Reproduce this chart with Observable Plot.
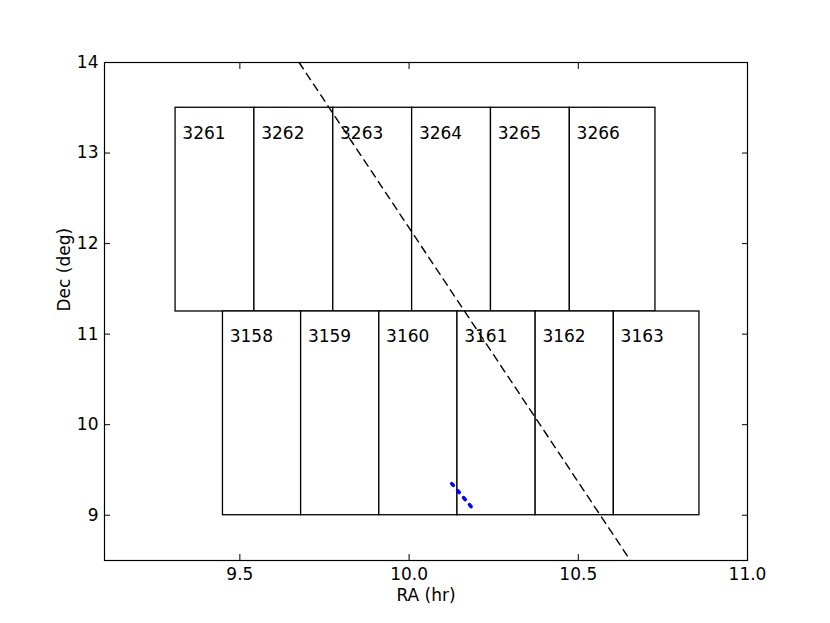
<!DOCTYPE html>
<html>
<head>
<meta charset="utf-8">
<script src="https://cdn.jsdelivr.net/npm/d3@7"></script>
<script src="https://cdn.jsdelivr.net/npm/@observablehq/plot@0.6"></script>
<style>
  html, body { margin: 0; padding: 0; background: white; }
  #chart { width: 830px; height: 623px; }
</style>
</head>
<body>
<div id="chart"></div>
<script>
// Field names and left RA edges (hr) of each field box
const topFields = ["3261", "3262", "3263", "3264", "3265", "3266"];
const topRA = [9.310, 9.543, 9.776, 10.009, 10.242, 10.475];
const topDec = [11.25, 13.5];

const bottomFields = ["3158", "3159", "3160", "3161", "3162", "3163"];
const bottomRA = [9.450, 9.681, 9.912, 10.143, 10.374, 10.605];
const bottomDec = [9.0, 11.25];

const fieldWidth = 0.253; // hr (boxes overlap; later boxes cover earlier ones)

// Dashed reference line (RA, Dec)
const pathRA = [9.675, 10.654];
const pathDec = [14.0, 8.5];

// Blue track (RA, Dec)
const trackRA = [10.126, 10.189];
const trackDec = [9.35, 9.07];

// Axis ticks
const xTicks = [9.5, 10.0, 10.5, 11.0];
const yTicks = [9, 10, 11, 12, 13, 14];

// visible extent of each box: up to the next box's left edge (later boxes sit on top)
function row(names, ras, decs) {
  return names.map((name, i) => ({
    name,
    ra: ras[i],
    raEnd: i < ras.length - 1 ? ras[i + 1] : ras[i] + fieldWidth,
    dec0: decs[0],
    dec1: decs[1]
  }));
}
const fields = [...row(topFields, topRA, topDec), ...row(bottomFields, bottomRA, bottomDec)];
const path = pathRA.map((ra, i) => ({ra, dec: pathDec[i]}));
const track = trackRA.map((ra, i) => ({ra, dec: trackDec[i]}));

const font = "DejaVu Sans, sans-serif";

const chart = Plot.plot({
  width: 830,
  height: 623,
  marginLeft: 104,
  marginRight: 83,
  marginTop: 62,
  marginBottom: 63,
  style: {fontFamily: font, fontSize: "17px", background: "white", color: "black", overflow: "visible"},
  x: {domain: [9.1, 11.0]},
  y: {domain: [8.5, 14]},
  marks: [
    Plot.rect(fields, {
      x1: "ra", x2: "raEnd", y1: "dec0", y2: "dec1",
      fill: "white", stroke: "black", strokeWidth: 1.3
    }),
    Plot.line(path, {x: "ra", y: "dec", stroke: "black", strokeWidth: 1.4, strokeDasharray: "7.5,5.5", clip: true}),
    Plot.line(track, {x: "ra", y: "dec", stroke: "#0000ff", strokeWidth: 3.6, strokeDasharray: "2.5,6.7", strokeLinecap: "round"}),
    Plot.text(fields, {
      x: d => d.ra + 0.02, y: d => d.dec1 - 0.34, text: "name",
      textAnchor: "start", lineAnchor: "bottom", fontSize: 17, fill: "black"
    }),
    Plot.frame({stroke: "black", strokeWidth: 1.2}),
    Plot.axisX(xTicks, {anchor: "bottom", tickSize: -6, tickPadding: 13.3, tickFormat: d3.format(".1f"), label: null, fontSize: 17}),
    Plot.axisX(xTicks, {anchor: "top", tickSize: -6, tickFormat: () => "", label: null}),
    Plot.axisY(yTicks, {anchor: "left", tickSize: -6, tickPadding: 12, tickFormat: d3.format("d"), label: null, fontSize: 17}),
    Plot.axisY(yTicks, {anchor: "right", tickSize: -6, tickFormat: () => "", label: null}),
    Plot.text(["RA (hr)"], {frameAnchor: "bottom", lineAnchor: "bottom", dy: 40, text: d => d, fontSize: 17, fill: "black"}),
    Plot.text(["Dec (deg)"], {frameAnchor: "left", dx: -40, rotate: -90, text: d => d, fontSize: 17, fill: "black"})
  ]
});
document.getElementById("chart").appendChild(chart);
</script>
</body>
</html>
